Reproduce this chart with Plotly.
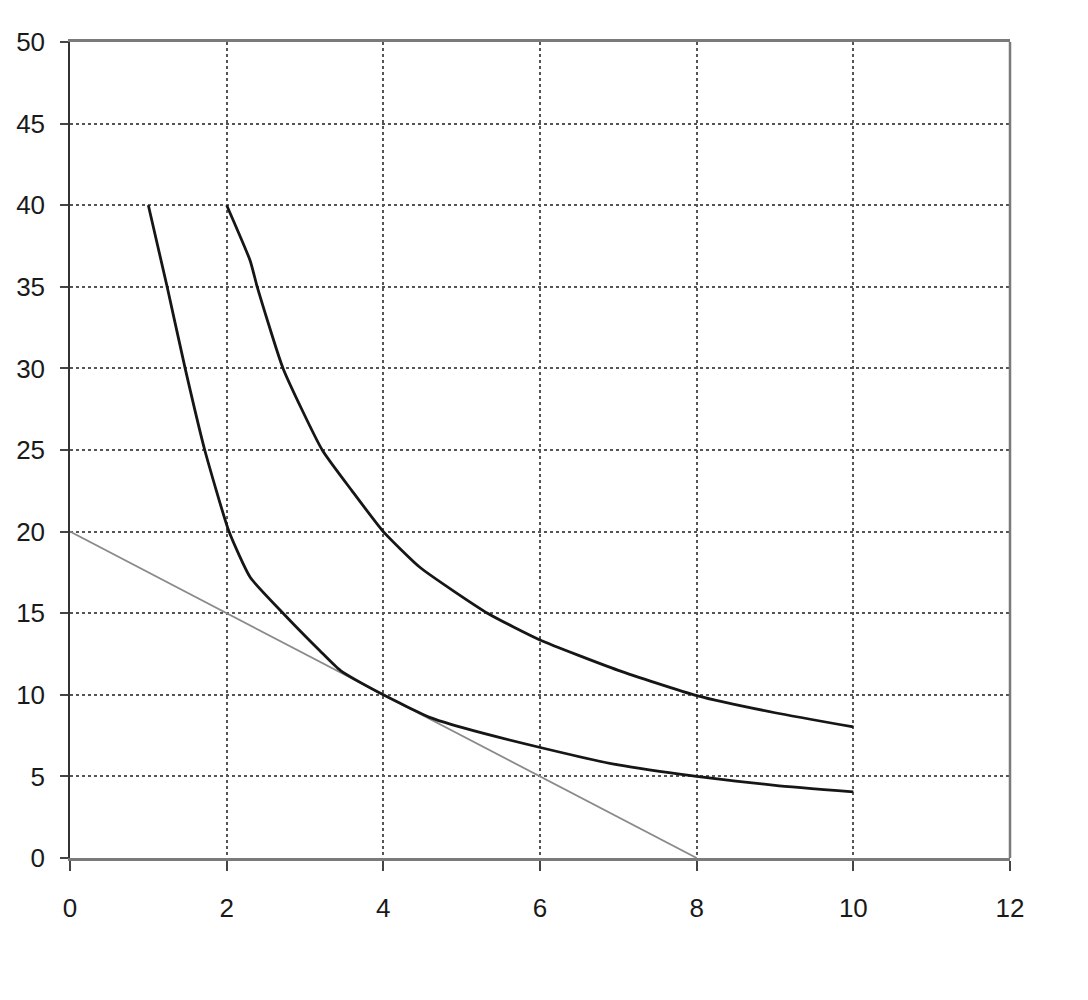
import plotly.graph_objects as go

# Lower indifference curve
lower_x = [1, 1.24, 1.47, 1.72, 2.03, 2.3, 2.72, 3.19, 3.45, 4.0, 4.6, 5.0, 6.03, 7.0, 8.0, 9.0, 10.0]
lower_y = [40, 35, 30, 25, 20, 17.2, 15, 12.7, 11.5, 10, 8.6, 8.0, 6.74, 5.7, 5.0, 4.45, 4.05]

# Upper indifference curve
upper_x = [2.0, 2.3, 2.39, 2.72, 3.22, 3.6, 4.0, 4.47, 5.33, 6.0, 7.0, 8.0, 9.0, 10.0]
upper_y = [40, 36.6, 35, 30, 25, 22.5, 20, 17.8, 15.0, 13.36, 11.5, 9.95, 8.9, 8.03]

# Budget line
budget_x = [0, 8]
budget_y = [20, 0]

x_ticks = [0, 2, 4, 6, 8, 10, 12]
y_ticks = [0, 5, 10, 15, 20, 25, 30, 35, 40, 45, 50]

fig = go.Figure()
fig.add_trace(go.Scatter(x=budget_x, y=budget_y, mode="lines",
                         line=dict(color="#8a8a8a", width=1.8), showlegend=False))
fig.add_trace(go.Scatter(x=lower_x, y=lower_y, mode="lines",
                         line=dict(color="#161616", width=2.8, shape="spline", smoothing=0.5),
                         showlegend=False))
fig.add_trace(go.Scatter(x=upper_x, y=upper_y, mode="lines",
                         line=dict(color="#161616", width=2.8, shape="spline", smoothing=0.5),
                         showlegend=False))

tickfont = dict(family="Liberation Sans, Arial, sans-serif", size=26, color="#1a1a1a")

fig.update_layout(
    width=1088, height=1000,
    margin=dict(l=62, r=86, t=34, b=150),
    plot_bgcolor="white", paper_bgcolor="white",
    xaxis=dict(range=[0, 12], tickvals=x_ticks, ticktext=[str(v) for v in x_ticks],
               showgrid=True, gridcolor="#555", griddash="dot", gridwidth=1.8,
               zeroline=False, showline=True, linecolor="#7a7a7a", linewidth=2.5,
               mirror=True, ticks="outside", ticklen=10, tickwidth=1.5, automargin=False,
               tickcolor="#444", tickfont=tickfont, ticklabelstandoff=15),
    yaxis=dict(range=[0, 50], tickvals=y_ticks, ticktext=[str(v) for v in y_ticks],
               showgrid=True, gridcolor="#555", griddash="dot", gridwidth=1.8,
               zeroline=False, showline=True, linecolor="#333", linewidth=1.5,
               ticks="outside", ticklen=8, tickwidth=1.5, tickcolor="#444", automargin=False,
               tickfont=tickfont, ticklabelstandoff=10),
    shapes=[
        dict(type="line", xref="paper", yref="paper", x0=1, x1=1, y0=0, y1=1,
             line=dict(color="#7a7a7a", width=2.5)),
    ],
)

fig.write_html("out.html")
